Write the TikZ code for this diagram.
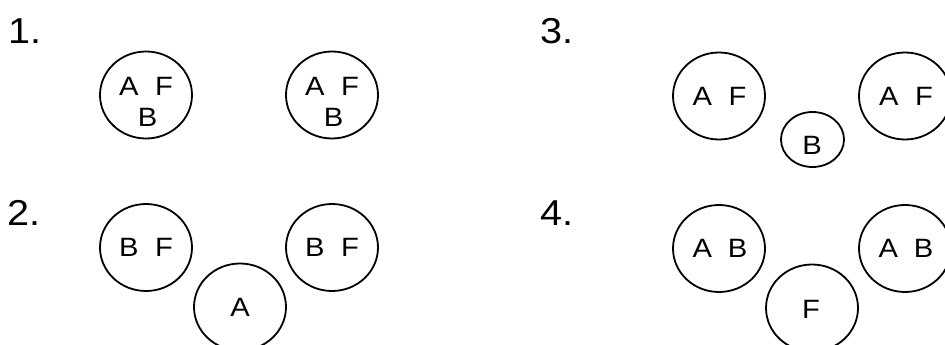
\documentclass[tikz,border=0pt]{standalone}
\usepackage{fontspec}
\setmainfont{Liberation Sans}[FakeStretch=1.1]
\usetikzlibrary{shapes.geometric}
\begin{document}
\begin{tikzpicture}[x=1pt,y=-1pt,
  ring/.style={draw=black, line width=1.8pt, ellipse, inner sep=0pt, minimum width=92pt, minimum height=87pt},
  smallring/.style={ring, minimum width=63pt, minimum height=55pt},
  lab/.style={inner sep=0pt, font=\fontsize{26.5}{32}\selectfont},
  num/.style={inner sep=0pt, anchor=base west, font=\fontsize{36}{40}\selectfont}]
\useasboundingbox (0,0) rectangle (945,345);
\clip (0,0) rectangle (945,345);
\fill[white] (0,0) rectangle (945,345);
% panel 1
\node[num] (n1) at (8,43.3) {1.};
\node[ring] (c1a) at (146,95) {};
\node[ring] (c1b) at (332,95) {};
\node[lab] (t1a) at (146,86.3) {A\hspace{16.5pt}F};
\node[lab] (t1b) at (147.5,117.5) {B};
\node[lab] (t1c) at (332,86.3) {A\hspace{16.5pt}F};
\node[lab] (t1d) at (333.5,117.5) {B};
% panel 2
\node[num] (n2) at (7,225) {2.};
\node[ring] (c2a) at (146,247.5) {};
\node[ring] (c2b) at (332,247.5) {};
\node[ring] (c2c) at (240,307) {};
\node[lab] (t2a) at (146,247) {B\hspace{16.5pt}F};
\node[lab] (t2b) at (332,247) {B\hspace{16.5pt}F};
\node[lab] (t2c) at (240,307) {A};
% panel 3
\node[num] (n3) at (540,43.3) {3.};
\node[ring] (c3a) at (719,96) {};
\node[smallring] (c3b) at (812.5,139.5) {};
\node[ring] (c3c) at (905,96) {};
\node[lab] (t3a) at (719.5,96) {A\hspace{16.5pt}F};
\node[lab] (t3b) at (812,145) {B};
\node[lab] (t3c) at (906,96) {A\hspace{16.5pt}F};
% panel 4
\node[num] (n4) at (540,225) {4.};
\node[ring] (c4a) at (719,248.5) {};
\node[ring] (c4b) at (812,308) {};
\node[ring] (c4c) at (905,248.5) {};
\node[lab] (t4a) at (720,248.5) {A\hspace{16pt}B};
\node[lab] (t4b) at (811,309) {F};
\node[lab] (t4c) at (906,248.5) {A\hspace{16pt}B};
\end{tikzpicture}
\end{document}
